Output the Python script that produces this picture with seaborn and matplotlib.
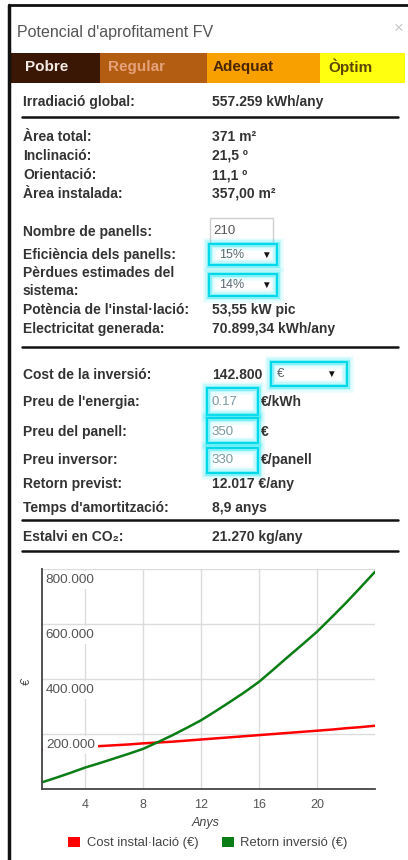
import numpy as np
import pandas as pd
import seaborn as sns
import matplotlib.pyplot as plt
from matplotlib.patches import Rectangle, Patch
from matplotlib.transforms import offset_copy

# ---- data ----
years = list(range(1, 25))
cost_install = [143000, 146000, 149000, 152000, 156000, 159000, 162000, 166000,
                169000, 172000, 176000, 180000, 184000, 188000, 192000, 196000,
                200000, 204000, 208000, 212000, 216000, 221000, 225000, 230000]
return_invest = [24000, 41000, 59000, 78000, 94000, 111000, 128000, 146000,
                 170000, 195000, 222000, 250000, 283000, 317000, 352000, 390000,
                 435000, 481000, 526000, 572000, 624000, 677000, 733000, 790000]
series_names = ["Cost instal·lació (€)", "Retorn inversió (€)"]
series_colors = ["#ff0000", "#0a7d14"]
y_ticks = [200000, 400000, 600000, 800000]
y_tick_labels = ["200.000", "400.000", "600.000", "800.000"]
x_ticks = [4, 8, 12, 16, 20]

title = "Potencial d'aprofitament FV"
levels = ["Pobre", "Regular", "Adequat", "Òptim"]
level_colors = ["#3a1705", "#b35d12", "#f7a000", "#ffff10"]
level_text_colors = ["#f2ebe4", "#e6a27a", "#4a2500", "#5a4800"]

rows_top = [("Irradiació global:", "557.259 kWh/any")]
rows_site = [("Àrea total:", "371 m²"), ("Inclinació:", "21,5 º"),
             ("Orientació:", "11,1 º"), ("Àrea instalada:", "357,00 m²")]
rows_after_inputs = [("Potència de l'instal·lació:", "53,55 kW pic"),
                     ("Electricitat generada:", "70.899,34 kWh/any")]
rows_results = [("Retorn previst:", "12.017 €/any"),
                ("Temps d'amortització:", "8,9 anys")]
co2_row = ("Estalvi en CO₂:", "21.270 kg/any")

sns.set_style("white")
plt.rcParams['font.family'] = ['Liberation Sans', 'DejaVu Sans']

W, H = 408, 860
fig = plt.figure(figsize=(W / 100, H / 100), dpi=100)
fig.patch.set_facecolor("white")

# full-figure layer in pixel coordinates for the panel UI
ui = fig.add_axes([0, 0, 1, 1])
ui.set_xlim(0, W)
ui.set_ylim(H, 0)
ui.axis("off")

TXT = "#333333"
LBL = dict(fontsize=10, fontweight="bold", color=TXT, va="center")

# window border
ui.plot([9, 9], [5, H], color="#111111", lw=2.5)
ui.plot([9, W], [5, 5], color="#111111", lw=2)

ui.text(17, 32, title, fontsize=11.5, color="#555555", va="center")
ui.text(399, 28, "×", fontsize=12, color="#c8c8c8", va="center", ha="center")

# rating bar
edges = [10, 100, 207, 320, 405]
text_x = [25, 108, 213, 328]
for i, name in enumerate(levels):
    ui.add_patch(Rectangle((edges[i], 53), edges[i + 1] - edges[i], 30,
                           color=level_colors[i], lw=0))
    ui.text(text_x[i], 67, name, fontsize=11, fontweight="bold",
            color=level_text_colors[i], va="center")

LX, VX = 23, 212


def row(y, label, value=None):
    ui.text(LX, y, label, **LBL)
    if value is not None:
        ui.text(VX, y, value, **LBL)


def rule(y):
    ui.plot([22, 398], [y, y], color="#111111", lw=1.8)


def glow_box(x0, y0, x1, y1):
    for lw, a in [(9, 0.10), (6, 0.2), (3.5, 0.45)]:
        ui.add_patch(Rectangle((x0, y0), x1 - x0, y1 - y0, fill=False,
                               ec="#30e8f5", lw=lw, alpha=a))
    ui.add_patch(Rectangle((x0, y0), x1 - x0, y1 - y0, fill=False,
                           ec="#00d8ea", lw=1.4))


row(102, *rows_top[0])
rule(117)
for y, (lab, val) in zip([137, 156, 175, 194], rows_site):
    row(y, lab, val)

# number of panels input
row(232, "Nombre de panells:")
ui.add_patch(Rectangle((210, 218), 63, 25, fill=False, ec="#cfcfcf", lw=1))
ui.text(213, 231, "210", fontsize=9.5, color="#555555", va="center")

row(255, "Eficiència dels panells:")
glow_box(209, 244, 277, 265)
ui.text(219, 255, "15%", fontsize=9, color="#5a6a70", va="center")
ui.text(266, 255, "▼", fontsize=7, color="#111111", va="center", ha="center")

row(273, "Pèrdues estimades del")
row(291, "sistema:")
glow_box(209, 274, 277, 296)
ui.text(219, 285, "14%", fontsize=9, color="#5a6a70", va="center")
ui.text(266, 285, "▼", fontsize=7, color="#111111", va="center", ha="center")

for y, (lab, val) in zip([310, 329], rows_after_inputs):
    row(y, lab, val)
rule(347)

row(375, "Cost de la inversió:", "142.800")
glow_box(271, 362, 347, 386)
ui.text(277, 374, "€", fontsize=9.5, color="#556065", va="center")
ui.text(331, 374, "▼", fontsize=7, color="#111111", va="center", ha="center")

inputs = [(402, "Preu de l'energia:", "0.17", "€/kWh", 388, 415),
          (432, "Preu del panell:", "350", "€", 418, 443),
          (460, "Preu inversor:", "330", "€/panell", 448, 473)]
for y, lab, val, unit, y0, y1 in inputs:
    row(y, lab)
    glow_box(207, y0, 258, y1)
    ui.text(211, y, val, fontsize=9.5, color="#7a9aa0", va="center")
    ui.text(261, y, unit, **LBL)

for y, (lab, val) in zip([484, 508], rows_results):
    row(y, lab, val)
rule(520)
row(537, *co2_row)
rule(551)

# ---- chart ----
x0, x1, ytop, ybot = 41.7, 375, 569, 789
ax = fig.add_axes([x0 / W, 1 - ybot / H, (x1 - x0) / W, (ybot - ytop) / H])
ax.set_facecolor("white")

df = pd.DataFrame({
    "year": years * 2,
    "value": cost_install + return_invest,
    "series": [series_names[0]] * len(years) + [series_names[1]] * len(years),
})
sns.lineplot(data=df, x="year", y="value", hue="series", hue_order=series_names,
             palette=dict(zip(series_names, series_colors)), linewidth=1.8,
             legend=False, ax=ax, zorder=3)

ax.set_xlim(1, 24)
ax.set_ylim(0, 800000)
ax.set_xticks(x_ticks)
ax.set_xticklabels([str(t) for t in x_ticks])
ax.set_yticks(y_ticks)
ax.set_yticklabels([])
ax.grid(True, color="#dcdcdc", lw=1)
ax.set_axisbelow(True)
ax.tick_params(axis="both", length=0, labelsize=9, labelcolor="#555555")
ax.tick_params(axis="x", pad=7)
for s in ["top", "right"]:
    ax.spines[s].set_visible(False)
for s in ["left", "bottom"]:
    ax.spines[s].set_color("#444444")
    ax.spines[s].set_linewidth(1.3)
    ax.spines[s].set_zorder(7)
ax.set_xlabel("")
ax.set_ylabel("")

# y tick labels sit inside the plot, just under each gridline
trans = offset_copy(ax.get_yaxis_transform(), fig=fig, x=3, y=-3.5, units="points")
for t, lab in zip(y_ticks, y_tick_labels):
    ax.text(0.0, t, lab, transform=trans, fontsize=9.7, color="#555555",
            ha="left", va="top", zorder=5,
            bbox=dict(facecolor="white", edgecolor="none", pad=2.2))

ui.text(206, 823, "Anys", fontsize=9, style="italic", color="#444444",
        ha="center", va="center")
ui.text(27, 682, "€", fontsize=8.5, style="italic", color="#444444",
        ha="center", va="center", rotation=90)

handles = [Patch(facecolor=c, edgecolor="none") for c in series_colors]
fig.legend(handles, series_names, loc="center", ncol=2, frameon=False,
           bbox_to_anchor=(208 / W, 1 - 843 / H), handlelength=0.9,
           handleheight=0.9, handletextpad=0.5, columnspacing=1.8,
           prop=dict(size=9.4), labelcolor="#444444")

fig.savefig("out.png", dpi=100, facecolor="white")
